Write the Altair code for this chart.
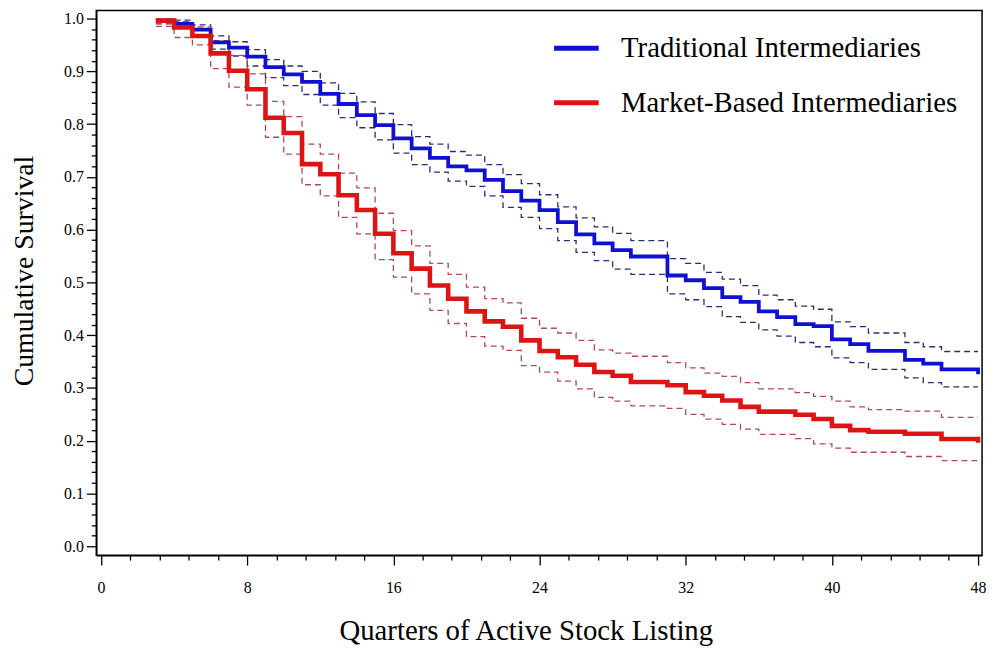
import altair as alt
import pandas as pd

# Quarters at which each step starts (last entry = end of follow-up)
quarters = list(range(3, 49))

# Traditional Intermediaries: Kaplan-Meier estimate and confidence band
trad_surv = [0.996, 0.990, 0.979, 0.955, 0.945, 0.928, 0.908, 0.894, 0.880, 0.857,
             0.838, 0.817, 0.798, 0.773, 0.754, 0.736, 0.720, 0.712, 0.694, 0.673,
             0.655, 0.637, 0.614, 0.591, 0.574, 0.561, 0.549, 0.549, 0.513, 0.504,
             0.489, 0.472, 0.463, 0.445, 0.434, 0.421, 0.417, 0.392, 0.383, 0.370,
             0.370, 0.353, 0.346, 0.335, 0.335, 0.326]
trad_upper = [0.999, 0.997, 0.988, 0.967, 0.956, 0.941, 0.922, 0.910, 0.900, 0.878,
              0.858, 0.842, 0.820, 0.799, 0.776, 0.762, 0.748, 0.741, 0.723, 0.704,
              0.687, 0.666, 0.643, 0.622, 0.605, 0.593, 0.579, 0.579, 0.545, 0.536,
              0.519, 0.506, 0.494, 0.476, 0.467, 0.455, 0.449, 0.425, 0.416, 0.404,
              0.404, 0.386, 0.378, 0.369, 0.369, 0.369]
trad_lower = [0.990, 0.982, 0.967, 0.942, 0.929, 0.910, 0.888, 0.873, 0.856, 0.836,
              0.812, 0.793, 0.770, 0.745, 0.723, 0.709, 0.692, 0.682, 0.664, 0.642,
              0.623, 0.602, 0.579, 0.557, 0.541, 0.525, 0.515, 0.515, 0.478, 0.467,
              0.454, 0.435, 0.424, 0.410, 0.398, 0.386, 0.378, 0.357, 0.348, 0.335,
              0.335, 0.319, 0.310, 0.302, 0.302, 0.302]

# Market-Based Intermediaries: Kaplan-Meier estimate and confidence band
mkt_surv = [0.996, 0.983, 0.967, 0.934, 0.901, 0.866, 0.812, 0.783, 0.724, 0.705,
            0.665, 0.637, 0.592, 0.555, 0.526, 0.494, 0.469, 0.445, 0.426, 0.416,
            0.390, 0.370, 0.358, 0.344, 0.330, 0.323, 0.311, 0.311, 0.305, 0.292,
            0.285, 0.276, 0.264, 0.255, 0.255, 0.249, 0.241, 0.228, 0.220, 0.217,
            0.217, 0.213, 0.213, 0.203, 0.203, 0.196]
mkt_upper = [0.999, 0.994, 0.984, 0.958, 0.930, 0.895, 0.843, 0.814, 0.762, 0.743,
             0.707, 0.679, 0.631, 0.598, 0.569, 0.536, 0.515, 0.491, 0.469, 0.461,
             0.432, 0.413, 0.404, 0.390, 0.372, 0.366, 0.360, 0.360, 0.348, 0.338,
             0.328, 0.322, 0.310, 0.298, 0.298, 0.291, 0.284, 0.275, 0.264, 0.259,
             0.259, 0.256, 0.256, 0.244, 0.244, 0.244]
mkt_lower = [0.985, 0.964, 0.950, 0.905, 0.870, 0.836, 0.775, 0.743, 0.685, 0.664,
             0.623, 0.592, 0.543, 0.510, 0.478, 0.447, 0.422, 0.397, 0.379, 0.371,
             0.342, 0.330, 0.313, 0.298, 0.282, 0.275, 0.266, 0.266, 0.261, 0.250,
             0.241, 0.231, 0.222, 0.212, 0.212, 0.204, 0.194, 0.186, 0.178, 0.178,
             0.178, 0.170, 0.170, 0.162, 0.162, 0.162]

groups = ["Traditional Intermediaries", "Market-Based Intermediaries"]
line_colors = ["#1010d2", "#dc1414"]
line_widths = [3.8, 4.6]
band_colors = ["#2c2c72", "#b04a58"]

x_ticks = [round(i * 0.8, 4) for i in range(61)]     # minor every 0.8, major every 8
y_ticks = [round(i * 0.02, 4) for i in range(51)]    # minor every 0.02, major every 0.1

main_rows = []
for g, vals in zip(groups, [trad_surv, mkt_surv]):
    for q, v in zip(quarters, vals):
        main_rows.append({"q": q, "S": v, "group": g})
main_df = pd.DataFrame(main_rows)

band_rows = []
for g, up, lo in [(groups[0], trad_upper, trad_lower), (groups[1], mkt_upper, mkt_lower)]:
    for bound, vals in [("upper", up), ("lower", lo)]:
        for q, v in zip(quarters, vals):
            band_rows.append({"q": q, "S": v, "band": g, "bound": bound})
band_df = pd.DataFrame(band_rows)

FONT = "Liberation Serif"

x_enc = alt.X(
    "q:Q",
    scale=alt.Scale(domain=[-0.26, 48.22], nice=False, zero=False),
    axis=alt.Axis(
        title="Quarters of Active Stock Listing",
        values=x_ticks,
        format="d",
        labelExpr="round(datum.value * 10) % 80 === 0 ? datum.label : ''",
        tickSize={"condition": {"test": "round(datum.value * 10) % 80 === 0", "value": 10}, "value": 5},
        labelPadding=15,
        labelOverlap=False,
        labelFlush=False,
        titleX=433,
        titleY=85,
        titleFontSize=29,
        titleAlign="center",
        titleBaseline="alphabetic",
        grid=False,
    ),
)
y_enc = alt.Y(
    "S:Q",
    scale=alt.Scale(domain=[-0.017, 1.015], nice=False, zero=False),
    axis=alt.Axis(
        title="Cumulative Survival",
        values=y_ticks,
        format=".1f",
        labelExpr="round(datum.value * 100) % 10 === 0 ? datum.label : ''",
        tickSize={"condition": {"test": "round(datum.value * 100) % 10 === 0", "value": 10}, "value": 5},
        labelPadding=3,
        labelOverlap=False,
        labelFlush=False,
        titleX=-64,
        titleY=262,
        titleFontSize=28,
        titleAngle=270,
        titleAlign="center",
        titleBaseline="alphabetic",
        grid=False,
    ),
)

bands = alt.Chart(band_df).mark_line(
    interpolate="step-after", strokeWidth=1.3, strokeDash=[6, 4]
).encode(
    x=x_enc,
    y=y_enc,
    color=alt.Color("band:N", scale=alt.Scale(domain=groups, range=band_colors), legend=None),
    detail="bound:N",
)

main = alt.Chart(main_df).mark_line(
    interpolate="step-after"
).encode(
    x=x_enc,
    y=y_enc,
    strokeWidth=alt.StrokeWidth("group:N", scale=alt.Scale(domain=groups, range=line_widths), legend=None),
    color=alt.Color(
        "group:N",
        scale=alt.Scale(domain=groups, range=line_colors),
        legend=alt.Legend(
            title=None,
            orient="none",
            legendX=459,
            legendY=13,
            symbolType="stroke",
            symbolSize=2025,
            symbolStrokeWidth=5,
            labelFont=FONT,
            labelFontSize=29,
            labelColor="black",
            labelOffset=20,
            labelLimit=0,
            rowPadding=15,
            padding=0,
        ),
    ),
)

chart = alt.layer(bands, main).resolve_scale(color="independent").properties(
    width=893,
    height=549,
    autosize=alt.AutoSizeParams(type="none"),
    padding={"left": 89, "top": 0, "right": 8, "bottom": 95},
).configure_view(
    stroke="black", strokeWidth=1.5
).configure_axis(
    domainColor="black",
    domainWidth=1.5,
    tickColor="black",
    tickWidth=1.3,
    labelFont=FONT,
    labelFontSize=16,
    labelColor="black",
    titleFont=FONT,
    titleFontWeight="normal",
    titleColor="black",
)

chart.save("out.html", embed_options={"renderer": "svg", "actions": False})
